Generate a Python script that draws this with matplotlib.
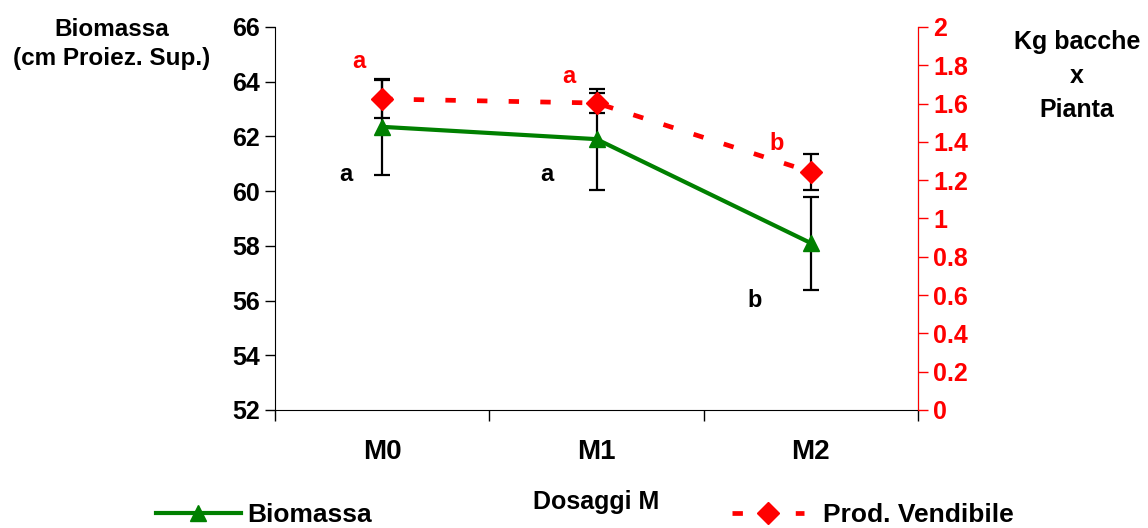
import matplotlib
matplotlib.use("Agg")
import matplotlib.pyplot as plt
from matplotlib.lines import Line2D

plt.rcParams['font.family'] = ['Liberation Sans', 'DejaVu Sans']
plt.rcParams['font.weight'] = 'bold'

dosaggi = ['M0', 'M1', 'M2']
biomassa = [62.35, 61.9, 58.1]
biomassa_err = [1.75, 1.85, 1.7]
prod = [1.624, 1.603, 1.243]
prod_err = [0.10, 0.05, 0.094]
lett_bio = ['a', 'a', 'b']
lett_prod = ['a', 'a', 'b']

fig = plt.figure(figsize=(11.48, 5.28), dpi=100)
ax = fig.add_axes([0.2395, 0.2235, 0.5602, 0.7254])
ax2 = ax.twinx()

x = list(range(len(dosaggi)))
green = '#008000'
red = '#ff0000'

ax.errorbar(x, biomassa, yerr=biomassa_err, fmt='none', ecolor='black',
            elinewidth=1.6, capsize=6, capthick=1.6, zorder=2)
ax.plot(x, biomassa, color=green, lw=3, marker='^', ms=12, zorder=3)

ax2.errorbar(x, prod, yerr=prod_err, fmt='none', ecolor='black',
             elinewidth=1.6, capsize=6, capthick=1.6, zorder=2)
ax2.plot(x, prod, color=red, lw=3.4, linestyle=(0, (2.2, 4.5)),
         marker='D', ms=11, zorder=3)

# lettere di significativita
fs_l = 17
ax.text(-0.17, 60.6, lett_bio[0], fontsize=fs_l, ha='center', va='center')
ax.text(0.77, 60.6, lett_bio[1], fontsize=fs_l, ha='center', va='center')
ax.text(1.74, 56.0, lett_bio[2], fontsize=fs_l, ha='center', va='center')
ax2.text(-0.11, 1.82, lett_prod[0], fontsize=fs_l, color=red, ha='center', va='center')
ax2.text(0.87, 1.74, lett_prod[1], fontsize=fs_l, color=red, ha='center', va='center')
ax2.text(1.84, 1.39, lett_prod[2], fontsize=fs_l, color=red, ha='center', va='center')

ax.set_xlim(-0.5, 2.5)
ax.set_ylim(52, 66)
ax.set_yticks(range(52, 67, 2))
ax2.set_ylim(0, 2)
ax2.set_yticks([i / 5 for i in range(11)])
ax2.set_yticklabels(['0', '0.2', '0.4', '0.6', '0.8', '1', '1.2', '1.4', '1.6', '1.8', '2'])

ax.set_xticks([-0.5, 0.5, 1.5, 2.5])
ax.set_xticklabels([])
ax.set_xticks(x, minor=True)
ax.set_xticklabels(dosaggi, minor=True)
ax.tick_params(axis='x', which='major', length=8, width=1, direction='out')
ax.tick_params(axis='x', which='minor', length=0, pad=21, labelsize=20)
ax.tick_params(axis='y', length=7, width=1, labelsize=18, pad=4)
ax2.tick_params(axis='y', length=7, width=1, colors=red, labelsize=18, pad=4)

for a in (ax, ax2):
    a.spines['top'].set_visible(False)
ax2.spines['left'].set_visible(False)
ax2.spines['bottom'].set_visible(False)
ax2.spines['right'].set_color(red)

ax.set_xlabel('Dosaggi M', fontsize=18, fontweight='bold', labelpad=18)
fig.text(0.097, 0.917, 'Biomassa\n(cm Proiez. Sup.)', fontsize=17.5,
         ha='center', va='center', linespacing=1.35)
fig.text(0.938, 0.856, 'Kg bacche\nx\nPianta', fontsize=18,
         ha='center', va='center', linespacing=1.55)

h1 = Line2D([], [], color=green, lw=3, marker='^', ms=12)
h2 = Line2D([], [], color=red, lw=3.4, linestyle=(0, (2.2, 4.5)), marker='D', ms=11)
l1 = fig.legend(handles=[h1], labels=['Biomassa'], loc='center left',
                bbox_to_anchor=(0.136, 0.025), frameon=False, fontsize=19,
                handlelength=3.2, handletextpad=0.27, borderpad=0,
                borderaxespad=0)
l2 = fig.legend(handles=[h2], labels=['Prod. Vendibile'], loc='center left',
                bbox_to_anchor=(0.638, 0.025), frameon=False, fontsize=19,
                handlelength=2.7, handletextpad=0.72, borderpad=0,
                borderaxespad=0)

fig.savefig('out.png', dpi=100)
